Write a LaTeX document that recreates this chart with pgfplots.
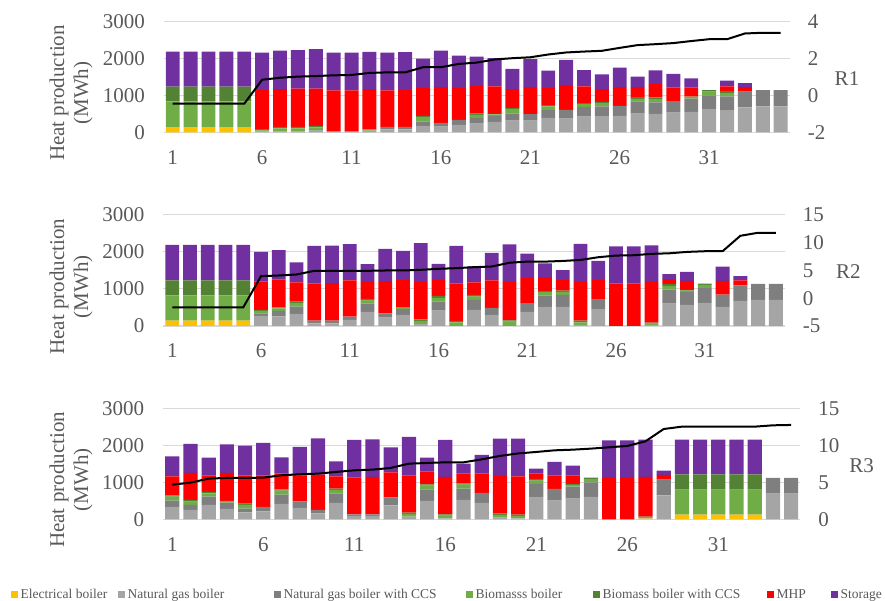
\documentclass[border=0pt]{standalone}
\usepackage{fontspec}
\setmainfont{Liberation Serif}
\usepackage{pgfplots}
\usepackage{pgfplotstable}
\pgfplotsset{compat=1.18}
\definecolor{cEB}{HTML}{FFC000}
\definecolor{cNG}{HTML}{A5A5A5}
\definecolor{cNGC}{HTML}{7F7F7F}
\definecolor{cBIO}{HTML}{70AD47}
\definecolor{cBIOC}{HTML}{548235}
\definecolor{cMHP}{HTML}{FF0000}
\definecolor{cSTO}{HTML}{7030A0}
\definecolor{gridgray}{HTML}{D9D9D9}
\definecolor{tickgray}{HTML}{595959}

\pgfplotstableread{
x eb ng ngc bio bioc mhp sto r
1 140 0 0 700 400 0 950 -0.45
2 140 0 0 700 400 0 950 -0.45
3 140 0 0 700 400 0 950 -0.45
4 140 0 0 700 400 0 950 -0.45
5 140 0 0 700 400 0 950 -0.45
6 0 15 0 40 30 1060 1018 0.85
7 0 15 0 90 40 1028 1045 0.96
8 0 15 0 90 40 1037 1045 1.02
9 0 45 20 70 40 1007 1072 1.05
10 0 15 0 0 0 1121 1027 1.09
11 0 15 0 0 0 1121 1027 1.11
12 0 45 0 25 0 1103 1008 1.22
13 0 80 65 0 0 991 1027 1.25
14 0 80 65 0 0 1000 1027 1.25
15 0 173 118 118 36 755 800 1.53
16 0 155 100 0 0 972 991 1.53
17 0 200 136 0 0 864 882 1.71
18 0 236 155 82 36 745 800 1.78
19 0 282 163 40 15 745 764 1.95
20 0 318 191 118 36 510 545 2.02
21 0 318 173 0 0 736 755 2.07
22 0 391 209 100 36 464 473 2.22
23 0 373 236 0 0 673 682 2.33
24 0 427 255 82 27 455 437 2.38
25 0 436 264 91 36 345 400 2.42
26 0 445 273 0 0 509 527 2.58
27 0 509 327 73 45 273 282 2.73
28 0 500 309 91 45 364 373 2.78
29 0 536 309 0 0 364 373 2.84
30 0 555 355 55 0 245 255 2.95
31 0 627 373 100 45 0 0 3.05
32 0 600 373 91 55 127 155 3.05
33 0 673 427 0 0 127 109 3.36
34 0 700 445 0 0 0 0 3.40
35 0 700 445 0 0 0 0 3.40
}\tabA

\pgfplotstableread{
x eb ng ngc bio bioc mhp sto r
1 145 0 0 680 407 0 959 -1.63
2 145 0 0 680 407 0 959 -1.63
3 145 0 0 680 407 0 959 -1.63
4 145 0 0 680 407 0 959 -1.63
5 145 0 0 680 407 0 959 -1.63
6 0 272 72 63 27 770 796 3.98
7 0 262 145 72 27 751 796 4.10
8 0 326 199 90 45 516 543 4.28
9 0 72 72 0 0 1004 1014 4.94
10 0 72 72 0 0 1014 1014 4.94
11 0 163 90 0 0 977 986 4.94
12 0 380 226 81 45 461 479 4.94
13 0 226 118 0 0 869 869 5.00
14 0 299 154 45 0 742 787 5.00
15 0 54 0 81 45 1005 1058 5.12
16 0 416 244 90 63 434 434 5.30
17 0 0 0 100 36 1013 1014 5.42
18 0 434 272 90 45 335 434 5.60
19 0 299 190 0 0 742 742 5.72
20 0 0 0 117 36 1033 1022 6.40
21 0 380 235 0 0 679 661 6.60
22 0 516 308 90 36 371 371 6.60
23 0 516 326 81 36 281 272 6.72
24 0 27 0 72 45 1041 1032 6.90
25 0 453 272 0 0 516 516 7.39
26 0 0 0 0 0 1149 1005 7.69
27 0 0 0 0 0 1149 1005 7.75
28 0 27 0 36 27 1095 995 8.00
29 0 606 380 90 54 136 136 8.10
30 0 570 344 45 18 244 244 8.35
31 0 624 398 90 36 0 0 8.47
32 0 516 335 0 0 371 380 8.47
33 0 679 416 0 0 136 118 11.25
34 0 706 434 0 0 0 0 11.80
35 0 706 434 0 0 0 0 11.80
}\tabB

\pgfplotstableread{
x eb ng ngc bio bioc mhp sto r
1 0 333 171 108 36 514 541 4.68
2 0 252 135 90 45 730 784 4.95
3 0 387 225 90 36 450 478 5.50
4 0 279 171 45 0 757 775 5.59
5 0 189 99 99 36 766 802 5.59
6 0 216 117 0 0 856 874 5.63
7 0 414 252 108 36 432 432 5.95
8 0 306 180 0 0 694 775 6.08
9 0 162 90 0 0 955 982 6.17
10 0 441 252 99 36 333 405 6.40
11 0 90 45 0 0 1000 1009 6.62
12 0 90 45 0 0 1009 1018 6.71
13 0 378 216 0 0 676 676 6.94
14 0 72 0 72 36 1000 1045 7.52
15 0 495 315 99 36 351 369 7.61
16 0 27 0 72 36 1009 1000 7.70
17 0 523 306 108 36 270 261 7.70
18 0 441 270 0 0 532 496 8.10
19 0 45 0 72 36 1018 1009 8.56
20 0 27 0 63 36 1036 1018 8.90
21 0 586 369 90 45 144 135 9.10
22 0 505 315 0 0 369 360 9.32
23 0 559 324 45 27 234 261 9.41
24 0 604 396 90 36 0 0 9.55
25 0 0 0 0 0 1117 1018 9.73
26 0 0 0 0 0 1117 1018 9.91
27 15 15 0 27 18 1072 1009 10.54
28 0 649 423 0 0 126 117 12.20
29 126 0 0 676 414 0 937 12.52
30 126 0 0 676 414 0 937 12.52
31 126 0 0 676 414 0 937 12.52
32 126 0 0 676 414 0 937 12.52
33 126 0 0 676 414 0 937 12.52
34 0 694 423 0 0 0 0 12.70
35 0 694 423 0 0 0 0 12.75
}\tabC

\pgfplotsset{
  legsq/.style={legend image code/.code={\fill[##1,draw=none] (0pt,-3.35pt) rectangle (6.7pt,3.35pt);}},
  common/.style={
    scale only axis, xmin=0.5, xmax=35.5,
    major tick length=0pt,
    tick label style={font=\fontsize{21}{21}\selectfont, text=tickgray, inner sep=0pt},
    /pgf/number format/assume math mode=true,
    /pgf/number format/1000 sep={},
  },
  prim/.style={
    common, ymin=0, ymax=3000, ytick={0,1000,2000,3000},
    xtick={1,6,11,16,21,26,31},
    axis x line*=bottom, axis y line*=left,
    y axis line style={draw=none},
    x axis line style={draw=gridgray, line width=1.3pt},
    ymajorgrids, grid style={draw=gridgray, line width=1pt},
    ybar stacked, bar width=0.78,
    xticklabel shift=17.7pt, yticklabel shift=18.8pt,
    xticklabel style={anchor=north},
    yticklabel style={anchor=east},
  },
  sec/.style={
    common, axis x line=none, axis y line*=right,
    y axis line style={draw=none},
    yticklabel shift=18pt,
    yticklabel style={anchor=west},
  },
  leftlab/.style={every axis y label/.style={at={(axis description cs:#1,0.355)}, rotate=90, anchor=center,
     font=\fontsize{21}{24}\selectfont, align=center, text=tickgray}},
  rightlab/.style 2 args={every axis y label/.style={at={(axis description cs:#1,#2)}, rotate=0, anchor=center,
     font=\fontsize{21}{21}\selectfont, text=tickgray}},
}

\begin{document}
\begin{tikzpicture}[x=1pt,y=1pt]
\useasboundingbox (0,0) rectangle (885,601);

% ---------- Panel 1 ----------
\begin{axis}[prim, at={(163.8pt,468.7pt)}, anchor=south west, width=625.8pt, height=110.6pt,
  ylabel={Heat production\\(MWh)}, leftlab=-0.148]
\addplot[fill=cEB, draw=none] table[x=x,y=eb]{\tabA};
\addplot[fill=cNG, draw=none] table[x=x,y=ng]{\tabA};
\addplot[fill=cNGC, draw=none] table[x=x,y=ngc]{\tabA};
\addplot[fill=cBIO, draw=none] table[x=x,y=bio]{\tabA};
\addplot[fill=cBIOC, draw=none] table[x=x,y=bioc]{\tabA};
\addplot[fill=cMHP, draw=none] table[x=x,y=mhp]{\tabA};
\addplot[fill=cSTO, draw=none] table[x=x,y=sto]{\tabA};
\end{axis}
\begin{axis}[sec, at={(163.8pt,468.7pt)}, anchor=south west, width=625.8pt, height=110.6pt,
  ymin=-2, ymax=4, ytick={-2,0,2,4},
  ylabel={R1}, rightlab={1.0917}{0.482}]
\addplot[black, line width=2pt, mark=none] table[x=x,y=r]{\tabA};
\end{axis}

% ---------- Panel 2 ----------
\begin{axis}[prim, at={(163.4pt,275pt)}, anchor=south west, width=621.3pt, height=111pt,
  ylabel={Heat production\\(MWh)}, leftlab=-0.1487]
\addplot[fill=cEB, draw=none] table[x=x,y=eb]{\tabB};
\addplot[fill=cNG, draw=none] table[x=x,y=ng]{\tabB};
\addplot[fill=cNGC, draw=none] table[x=x,y=ngc]{\tabB};
\addplot[fill=cBIO, draw=none] table[x=x,y=bio]{\tabB};
\addplot[fill=cBIOC, draw=none] table[x=x,y=bioc]{\tabB};
\addplot[fill=cMHP, draw=none] table[x=x,y=mhp]{\tabB};
\addplot[fill=cSTO, draw=none] table[x=x,y=sto]{\tabB};
\end{axis}
\begin{axis}[sec, at={(163.4pt,275pt)}, anchor=south west, width=621.3pt, height=111pt,
  ymin=-5, ymax=15, ytick={-5,0,5,10,15},
  ylabel={R2}, rightlab={1.1025}{0.491}]
\addplot[black, line width=2pt, mark=none] table[x=x,y=r]{\tabB};
\end{axis}

% ---------- Panel 3 ----------
\begin{axis}[prim, at={(163.2pt,81.7pt)}, anchor=south west, width=637pt, height=111pt,
  ylabel={Heat production\\(MWh)}, leftlab=-0.1447,
  legend columns=7,
  legend style={at={(axis description cs:-0.2389,-0.6775)}, anchor=west, draw=none, fill=none,
    inner sep=0pt, outer sep=0pt, column sep=0pt,
    font=\fontsize{13.5}{13.5}\selectfont, text=tickgray,
    nodes={inner sep=0pt, anchor=west},
    /tikz/every odd column/.append style={column sep=3pt}}]
\addplot[fill=cEB, draw=none, legsq] table[x=x,y=eb]{\tabC};
\addlegendentry{\makebox[97.3pt][l]{Electrical boiler}}
\addplot[fill=cNG, draw=none, legsq] table[x=x,y=ng]{\tabC};
\addlegendentry{\makebox[146.3pt][l]{Natural gas boiler}}
\addplot[fill=cNGC, draw=none, legsq] table[x=x,y=ngc]{\tabC};
\addlegendentry{\makebox[182.3pt][l]{Natural gas boiler with CCS}}
\addplot[fill=cBIO, draw=none, legsq] table[x=x,y=bio]{\tabC};
\addlegendentry{\makebox[117.3pt][l]{Biomasss boiler}}
\addplot[fill=cBIOC, draw=none, legsq] table[x=x,y=bioc]{\tabC};
\addlegendentry{\makebox[164.3pt][l]{Biomass boiler with CCS}}
\addplot[fill=cMHP, draw=none, legsq] table[x=x,y=mhp]{\tabC};
\addlegendentry{\makebox[54.3pt][l]{MHP}}
\addplot[fill=cSTO, draw=none, legsq] table[x=x,y=sto]{\tabC};
\addlegendentry{Storage}
\end{axis}
\begin{axis}[sec, at={(163.2pt,81.7pt)}, anchor=south west, width=637pt, height=111pt,
  ymin=0, ymax=15, ytick={0,5,10,15},
  ylabel={R3}, rightlab={1.0965}{0.48}]
\addplot[black, line width=2pt, mark=none] table[x=x,y=r]{\tabC};
\end{axis}
\end{tikzpicture}
\end{document}
